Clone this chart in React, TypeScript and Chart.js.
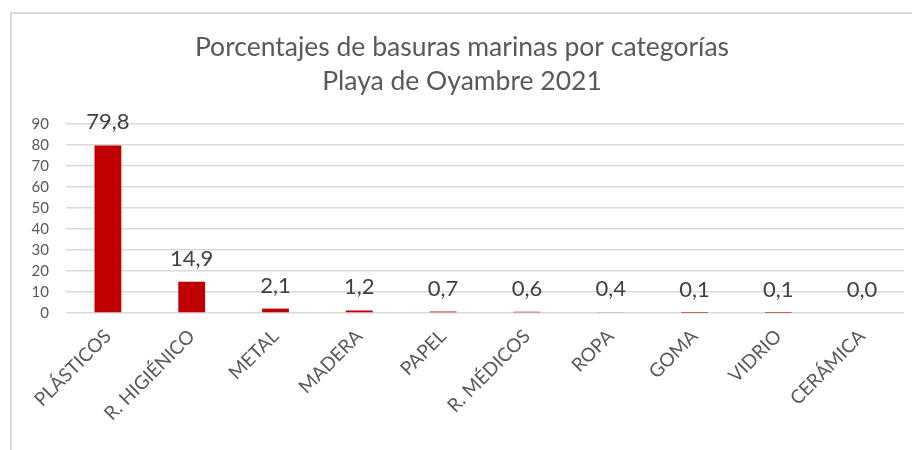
import React, { useEffect, useRef } from "react";
import { Chart, registerables } from "chart.js";

Chart.register(...registerables);

const titleLines = ["Porcentajes de basuras marinas por categorías", "Playa de Oyambre 2021"];
const categories = ["PLÁSTICOS", "R. HIGIÉNICO", "METAL", "MADERA", "PAPEL", "R. MÉDICOS", "ROPA", "GOMA", "VIDRIO", "CERÁMICA"];
const percentages = [79.8, 14.9, 2.1, 1.2, 0.7, 0.6, 0.4, 0.1, 0.1, 0.0];
const yMin = 0;
const yMax = 90;
const yStep = 10;

const FONT = "Lato, 'Open Sans', sans-serif";

const dataLabelPlugin = {
  id: "dataLabels",
  afterDatasetsDraw(chart: any) {
    const ctx = chart.ctx;
    const meta = chart.getDatasetMeta(0);
    const values = chart.data.datasets[0].data as number[];
    ctx.save();
    ctx.font = `22px ${FONT}`;
    ctx.fillStyle = "#404040";
    ctx.textAlign = "center";
    ctx.textBaseline = "alphabetic";
    meta.data.forEach((bar: any, i: number) => {
      const txt = values[i].toFixed(1).replace(".", ",");
      ctx.fillText(txt, bar.x, bar.y - 16);
    });
    ctx.restore();
  },
};

export default function App() {
  const ref = useRef<HTMLCanvasElement>(null);
  useEffect(() => {
    if (!ref.current) return;
    const chart = new Chart(ref.current, {
      type: "bar",
      data: {
        labels: categories,
        datasets: [
          {
            data: percentages,
            backgroundColor: "#C00000",
            barPercentage: 0.32,
            categoryPercentage: 1,
          },
        ],
      },
      options: {
        responsive: false,
        animation: false,
        layout: { padding: { left: 20, right: 8, top: 0, bottom: 0 } },
        plugins: {
          legend: { display: false },
          tooltip: { enabled: false },
          title: {
            display: true,
            text: titleLines,
            color: "#595959",
            font: { family: FONT, size: 26.5, weight: "normal" as any, lineHeight: 34 / 26.5 },
            padding: { top: 30, bottom: 26 },
          },
        },
        scales: {
          x: {
            grid: { display: false },
            border: { display: false },
            ticks: {
              color: "#595959",
              font: { family: FONT, size: 19 },
              maxRotation: 45,
              minRotation: 45,
              padding: 4,
              autoSkip: false,
            },
            afterFit(scale: any) {
              scale.height = 137;
            },
          },
          y: {
            min: yMin,
            max: yMax,
            ticks: {
              stepSize: yStep,
              autoSkip: false,
              color: "#595959",
              font: { family: FONT, size: 15 },
              padding: 17,
            },
            grid: { color: "#d9d9d9", lineWidth: 1.5, drawTicks: false },
            border: { display: false },
            afterFit(scale: any) {
              scale.width = 46;
            },
          },
        },
      },
      plugins: [dataLabelPlugin],
    });
    return () => chart.destroy();
  }, []);

  return (
    <div style={{ position: "fixed", left: 0, top: 0, width: 912, height: 450, overflow: "hidden", background: "#fff" }}>
      <div
        style={{
          position: "absolute",
          left: 10,
          top: 12,
          width: 940,
          height: 480,
          border: "2px solid #d9d9d9",
        }}
      />
      <canvas ref={ref} width={912} height={450} style={{ position: "absolute", left: 0, top: 0 }} />
    </div>
  );
}
